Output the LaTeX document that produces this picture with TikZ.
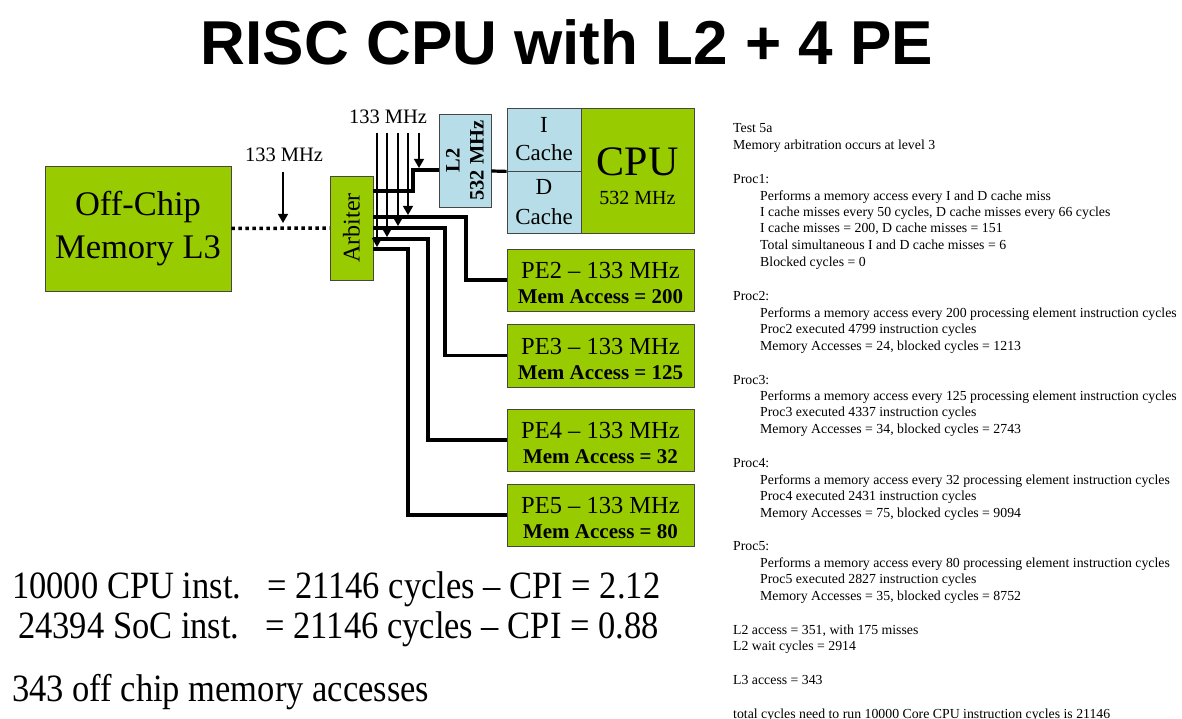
\documentclass[tikz,border=0pt]{standalone}
\usepackage{fontspec}
\usepackage{graphicx}
\setmainfont{Liberation Serif}
\newfontfamily\arialfont{Liberation Sans}
\usetikzlibrary{arrows.meta}
\definecolor{pegreen}{RGB}{153,204,0}
\definecolor{cacheblue}{RGB}{183,222,232}
\definecolor{boxline}{RGB}{70,70,70}
\newcommand{\tallish}[2]{\scalebox{1}[#1]{#2}}
\tikzset{
  gbox/.style={draw=boxline, line width=0.8pt, fill=pegreen, inner sep=0pt, align=center},
  bbox/.style={draw=boxline, line width=0.8pt, fill=cacheblue, inner sep=0pt, align=center},
  wire/.style={line width=3.2pt, line join=miter},
  clk/.style={line width=1.3pt, -{Triangle[width=10pt,length=9pt]}},
  dotwire/.style={line width=3.5pt, dash pattern=on 3.5pt off 3.5pt},
  fz/.style={font=\fontsize{#1}{#1}\selectfont},
}
\begin{document}
\begin{tikzpicture}[x=1pt,y=-1pt]
\useasboundingbox (0,0) rectangle (1182,719);
% title
\node[font=\arialfont\bfseries\fontsize{62}{70}\selectfont] (title) at (567,42) {RISC CPU with L2 + 4 PE};
% boxes
\node[gbox, minimum width=186pt, minimum height=125pt, font=\fontsize{34.5}{43}\selectfont] (mem) at (138,228.5) {Off-Chip\\Memory L3};
\node[gbox, minimum width=43pt, minimum height=104pt] (arb) at (351.5,228) {};
\node[rotate=90, fz=24] (arbt) at (arb.center) {Arbiter};
\node[bbox, minimum width=52pt, minimum height=93pt] (l2) at (465,160.5) {};
\node[rotate=90, font=\bfseries\fontsize{20.5}{24}\selectfont, align=center] (l2t) at (l2.center) {L2\\532 MHz};
\node[bbox, minimum width=74pt, minimum height=63pt, font=\fontsize{23}{28}\selectfont] (icache) at (544,139.5) {I\\Cache};
\node[bbox, minimum width=74pt, minimum height=62pt, font=\fontsize{23}{30}\selectfont] (dcache) at (544,202) {D\\Cache};
\node[gbox, minimum width=113pt, minimum height=125pt] (cpu) at (637.5,170.5) {};
\node[fz=42] (cput) at (637.5,162) {CPU};
\node[fz=20] (cpuf) at (637.5,198) {532 MHz};
\foreach \n/\y/\h/\m in {2/280/62/200, 3/355.5/63/125, 4/440/62/32, 5/515/62/80}{
  \node[gbox, minimum width=187pt, minimum height=\h pt] (pe\n) at (600.5,\y) {};
  \node[fz=24.5] (pe\n a) at (600.5,\y-9) {PE\n\ -- 133 MHz};
  \node[font=\bfseries\fontsize{21}{21}\selectfont] (pe\n b) at (600.5,\y+17) {Mem Access = \m};
}
% off-chip link
\draw[dotwire] (mem.east) -- (arb.west);
\node[fz=20.5] (f1) at (284,155) {133 MHz};
\draw[clk] (283,172) -- (283,223);
% L2 and caches
\draw[wire] (arb.east|-0,191) -- (413,191) |- (l2.west|-0,170);
\draw[wire] (l2.east|-0,171) -- (icache.south west);
% PE wires
\draw[wire] (arb.east|-0,217) -- (466,217) |- (pe2.west);
\draw[wire] (arb.east|-0,228) -- (445,228) |- (pe3.west);
\draw[wire] (arb.east|-0,239) -- (428,239) |- (pe4.west);
\draw[wire] (arb.east|-0,249) -- (408,249) |- (pe5.west);
% clock arrows
\node[fz=20.5] (f2) at (388,117) {133 MHz};
\draw[clk] (377,133) -- (377,247);
\draw[clk] (387,133) -- (387,237);
\draw[clk] (398,133) -- (398,226);
\draw[clk] (408,133) -- (408,215);
\draw[clk] (419,133) -- (419,168);
% bottom text
\node[anchor=base west, fz=34.5, inner sep=0pt] (b1) at (12,598) {\tallish{1.12}{10000 CPU inst.\ \ \ = 21146 cycles -- CPI = 2.12}};
\node[anchor=base west, fz=34.5, inner sep=0pt] (b2) at (18,638) {\tallish{1.12}{24394 SoC inst.\ \ \ = 21146 cycles -- CPI = 0.88}};
\node[anchor=base west, fz=34.5, inner sep=0pt] (b3) at (12,701) {\tallish{1.12}{343 off chip memory accesses}};
% right text
\foreach \x/\y/\t in {
 733/129/{Test 5a},
 733/146/{Memory arbitration occurs at level 3},
 733/180/{Proc1:},
 760/197/{Performs a memory access every I and D cache miss},
 760/213/{I cache misses every 50 cycles, D cache misses every 66 cycles},
 760/229/{I cache misses = 200, D cache misses = 151},
 760/246/{Total simultaneous I and D cache misses = 6},
 760/262/{Blocked cycles = 0},
 733/296/{Proc2:},
 760/313/{Performs a memory access every 200 processing element instruction cycles},
 760/329/{Proc2 executed 4799 instruction cycles},
 760/346/{Memory Accesses = 24, blocked cycles = 1213},
 733/380/{Proc3:},
 760/396/{Performs a memory access every 125 processing element instruction cycles},
 760/412/{Proc3 executed 4337 instruction cycles},
 760/429/{Memory Accesses = 34, blocked cycles = 2743},
 733/463/{Proc4:},
 760/480/{Performs a memory access every 32 processing element instruction cycles},
 760/496/{Proc4 executed 2431 instruction cycles},
 760/513/{Memory Accesses = 75, blocked cycles = 9094},
 733/546/{Proc5:},
 760/563/{Performs a memory access every 80 processing element instruction cycles},
 760/579/{Proc5 executed 2827 instruction cycles},
 760/596/{Memory Accesses = 35, blocked cycles = 8752},
 733/630/{L2 access = 351, with 175 misses},
 733/646/{L2 wait cycles = 2914},
 733/680/{L3 access = 343},
 733/714/{total cycles need to run 10000 Core CPU instruction cycles is 21146}}{
  \node[anchor=base west, inner sep=0pt, fz=13.8] at (\x,\y+4) {\t};
}
\end{tikzpicture}
\end{document}
